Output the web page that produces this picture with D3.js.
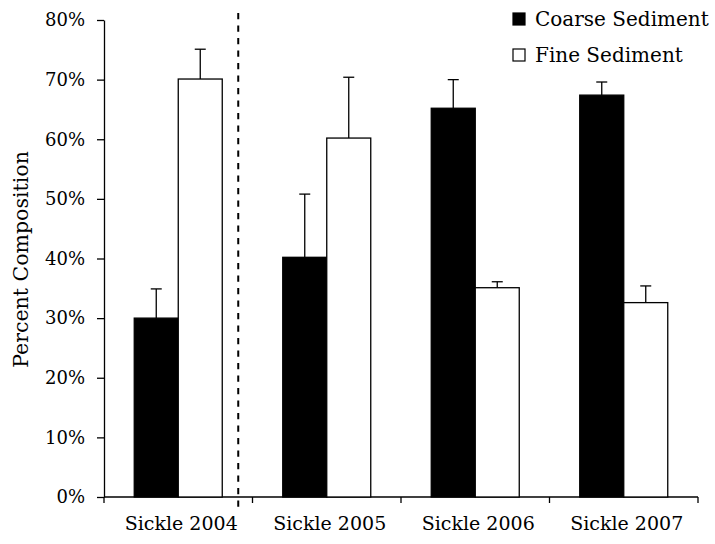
<!DOCTYPE html>
<html>
<head>
<meta charset="utf-8">
<script src="https://cdn.jsdelivr.net/npm/d3@7"></script>
<style>
  body { margin: 0; background: #fff; }
  text { font-family: "DejaVu Serif", serif; fill: #000; }
</style>
</head>
<body>
<div id="chart"></div>
<script>
let w = 715,
    h = 544;

let margin = { top: 20, bottom: 47, left: 104, right: 17 };
let width = w - margin.left - margin.right;
let height = h - margin.top - margin.bottom;

// data
let sites = ["Sickle 2004", "Sickle 2005", "Sickle 2006", "Sickle 2007"];
let series = ["Coarse Sediment", "Fine Sediment"];
let coarse = [30.0, 40.2, 65.2, 67.4];
let coarseErr = [4.9, 10.6, 4.8, 2.2];
let fine = [70.1, 60.2, 35.1, 32.6];
let fineErr = [5.0, 10.2, 1.0, 2.8];
let yTicks = [0, 10, 20, 30, 40, 50, 60, 70, 80];

let fills = ["#000", "#fff"];

let svg = d3.select("#chart")
            .append("svg")
            .attr("width", w)
            .attr("height", h)
            .append("g")
            .attr("transform", "translate(" + margin.left + "," + margin.top + ")");

let x = d3.scaleBand()
          .domain(sites)
          .range([0, width])
          .paddingInner(0)
          .paddingOuter(0);

let barW = 44;
let x1 = d3.scaleBand()
           .domain(series)
           .range([(x.bandwidth() - 2 * barW) / 2, (x.bandwidth() + 2 * barW) / 2]);

let y = d3.scaleLinear()
          .domain([0, 80])
          .range([height, 0]);

// y axis
let yAxis = svg.append("g")
               .call(d3.axisLeft(y).tickValues(yTicks).tickFormat(d => d + "%").tickSize(7).tickSizeOuter(0));
yAxis.select(".domain").attr("stroke-width", 1.3);
yAxis.selectAll(".tick line").attr("stroke-width", 1.3);
yAxis.selectAll(".tick text")
     .attr("x", -19)
     .style("font-size", "18px")
     .style("font-family", "DejaVu Serif, serif");

// x axis with ticks on the band edges
let xAxisG = svg.append("g").attr("transform", "translate(0," + height + ")");
xAxisG.append("line")
      .attr("x1", 0).attr("x2", width)
      .attr("stroke", "#000").attr("stroke-width", 1.3);
let edges = sites.map(d => x(d)).concat([width]);
xAxisG.selectAll(".edge")
      .data(edges)
      .enter()
      .append("line")
      .attr("x1", d => d).attr("x2", d => d)
      .attr("y1", 0).attr("y2", 6)
      .attr("stroke", "#000").attr("stroke-width", 1.3);
xAxisG.selectAll(".cat")
      .data(sites)
      .enter()
      .append("text")
      .attr("x", d => x(d) + x.bandwidth() / 2 + 3)
      .attr("y", 33)
      .attr("text-anchor", "middle")
      .style("font-size", "19px")
      .text(d => d);

// bars
let rows = sites.map((s, i) => [
  { site: s, key: series[0], v: coarse[i], e: coarseErr[i], fill: fills[0] },
  { site: s, key: series[1], v: fine[i], e: fineErr[i], fill: fills[1] }
]).flat();

// error bars (upper only)
let err = svg.selectAll(".err")
             .data(rows)
             .enter()
             .append("g");
err.append("line")
   .attr("x1", d => x(d.site) + x1(d.key) + barW / 2)
   .attr("x2", d => x(d.site) + x1(d.key) + barW / 2)
   .attr("y1", d => y(d.v))
   .attr("y2", d => y(d.v + d.e))
   .attr("stroke", "#000").attr("stroke-width", 1.3);
err.append("line")
   .attr("x1", d => x(d.site) + x1(d.key) + barW / 2 - 5.5)
   .attr("x2", d => x(d.site) + x1(d.key) + barW / 2 + 5.5)
   .attr("y1", d => y(d.v + d.e))
   .attr("y2", d => y(d.v + d.e))
   .attr("stroke", "#000").attr("stroke-width", 1.3);

svg.selectAll(".bar")
   .data(rows)
   .enter()
   .append("rect")
   .attr("x", d => x(d.site) + x1(d.key))
   .attr("y", d => y(d.v))
   .attr("width", barW)
   .attr("height", d => height - y(d.v))
   .attr("fill", d => d.fill)
   .attr("stroke", "#000")
   .attr("stroke-width", 1.3);

// dashed separator after 2004
let sepX = x(sites[0]) + x.bandwidth() * 0.904;
svg.append("line")
   .attr("x1", sepX).attr("x2", sepX)
   .attr("y1", -7).attr("y2", height + 14)
   .attr("stroke", "#000")
   .attr("stroke-width", 2)
   .attr("stroke-dasharray", "6.3,6.2");

// y title
svg.append("text")
   .attr("transform", "translate(" + (28 - margin.left) + "," + (y(40) + 1) + ") rotate(-90)")
   .attr("text-anchor", "middle")
   .style("font-size", "20.5px")
   .text("Percent Composition");

// legend
let legend = svg.selectAll(".legend")
                .data(series)
                .enter()
                .append("g")
                .attr("transform", (d, i) => "translate(" + (513 - margin.left) + "," + (13 - margin.top + i * 36) + ")");
legend.append("rect")
      .attr("width", 12).attr("height", 12)
      .attr("fill", (d, i) => fills[i])
      .attr("stroke", "#000").attr("stroke-width", 1.2);
legend.append("text")
      .attr("x", 22)
      .attr("y", 13)
      .style("font-size", "20px")
      .text(d => d);
</script>
</body>
</html>
